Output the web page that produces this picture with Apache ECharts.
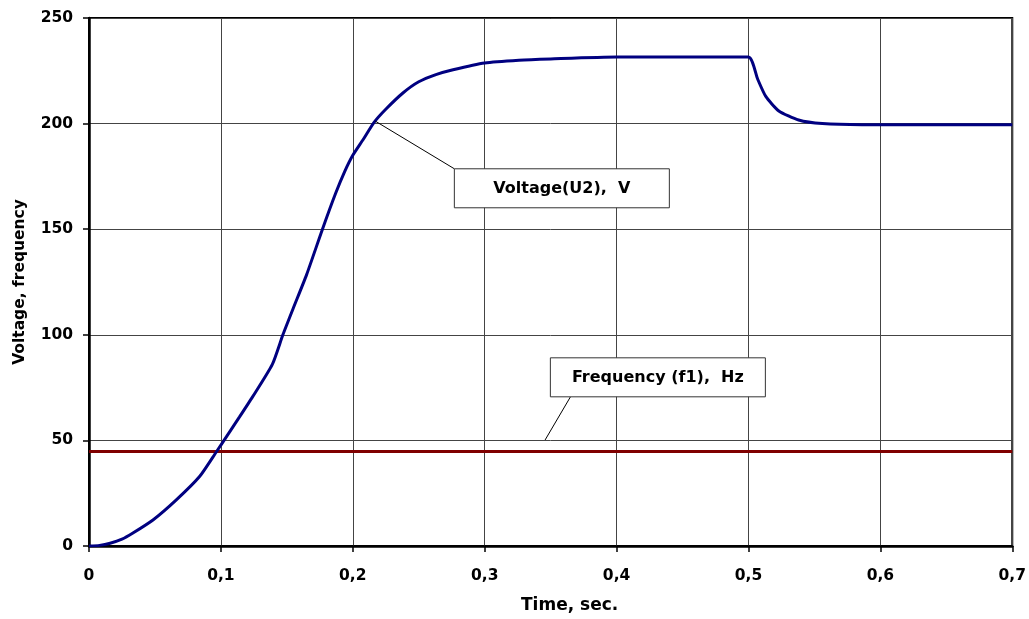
<!DOCTYPE html>
<html>
<head>
<meta charset="utf-8">
<script src="https://cdn.jsdelivr.net/npm/echarts@6/dist/echarts.min.js"></script>
<style>
html,body{margin:0;padding:0;background:#fff;}
#c{width:1029px;height:619px;}
</style>
</head>
<body>
<div id="c"></div>
<script>
// ---- data ----
var timeSec = [0, 0.008, 0.016, 0.025, 0.033, 0.0485, 0.066, 0.084, 0.0965, 0.1, 0.114, 0.124, 0.139, 0.147, 0.1545, 0.165, 0.177, 0.187, 0.194, 0.2, 0.208, 0.216, 0.225, 0.238, 0.25, 0.263, 0.276, 0.3, 0.326, 0.35, 0.4, 0.45, 0.5, 0.507, 0.513, 0.523, 0.538, 0.556, 0.586, 0.7];
var voltageU2 = [0, 0.3, 1.3, 3.2, 6, 12.3, 21.7, 33, 44.5, 47.8, 61, 70.6, 86, 100, 112, 128.5, 150, 167, 177.5, 185, 192.6, 200.5, 206.8, 214.5, 219.8, 223.2, 225.5, 228.7, 230, 230.6, 231.5, 231.5, 231.5, 221, 213, 206, 201.7, 200, 199.5, 199.5];
var freqTime = [0, 0.7];
var freqF1 = [44.7, 44.7];
var xTickLabels = ['0', '0,1', '0,2', '0,3', '0,4', '0,5', '0,6', '0,7'];
var yTickLabels = ['0', '50', '100', '150', '200', '250'];
var voltLabel = 'Voltage(U2),  V';
var freqLabel = 'Frequency (f1),  Hz';

function pairs(xs, ys) { return xs.map(function (x, i) { return [x, ys[i]]; }); }

var FONT = '"DejaVu Sans", sans-serif';
var chart = echarts.init(document.getElementById('c'));
chart.setOption({
  animation: false,
  backgroundColor: '#fff',
  grid: { left: 89, right: 15, top: 18, bottom: 70, show: true, borderColor: '#000', borderWidth: 2, backgroundColor: 'transparent' },
  xAxis: {
    type: 'value', min: 0, max: 0.7, interval: 0.1,
    name: 'Time, sec.', nameLocation: 'middle', nameGap: 51,
    nameTextStyle: { fontFamily: FONT, fontWeight: 'bold', fontSize: 17, color: '#000', padding: [0, 0, 0, 38] },
    axisLine: { show: true, lineStyle: { color: '#000', width: 2.5 } },
    axisTick: { show: true, length: 6, lineStyle: { color: '#000', width: 1.5 } },
    axisLabel: {
      margin: 22, fontFamily: FONT, fontWeight: 'bold', fontSize: 15.5, color: '#000',
      formatter: function (v) { return xTickLabels[Math.round(v * 10)]; }
    },
    splitLine: { show: true, lineStyle: { color: '#444', width: 1 } }
  },
  yAxis: {
    type: 'value', min: 0, max: 250, interval: 50,
    name: 'Voltage, frequency', nameLocation: 'middle', nameGap: 61,
    nameTextStyle: { fontFamily: FONT, fontWeight: 'bold', fontSize: 15.5, color: '#000' },
    axisLine: { show: true, lineStyle: { color: '#000', width: 2.5 } },
    axisTick: { show: true, length: 6, lineStyle: { color: '#000', width: 1.5 } },
    axisLabel: {
      margin: 16, fontFamily: FONT, fontWeight: 'bold', fontSize: 15.5, color: '#000',
      formatter: function (v) { return yTickLabels[Math.round(v / 50)]; }
    },
    splitLine: { show: true, lineStyle: { color: '#444', width: 1 } }
  },
  series: [
    {
      name: 'Frequency (f1), Hz', type: 'line', data: pairs(freqTime, freqF1),
      showSymbol: false, symbol: 'none', lineStyle: { color: '#800000', width: 3 }, z: 3
    },
    {
      name: 'Voltage(U2), V', type: 'line', data: pairs(timeSec, voltageU2),
      showSymbol: false, symbol: 'none', smooth: 0.2,
      lineStyle: { color: '#000080', width: 3 }, z: 4
    }
  ]
});

// annotation anchors in data coordinates
function px(p) { return chart.convertToPixel({ gridIndex: 0 }, p); }
var vAnchor = px([0.217, 201.2]);
var vBox = px([0.277, 178.6]);
var fAnchor = px([0.3458, 50.2]);
var fBox = px([0.3498, 89.1]);
var fLeadTop = px([0.365, 70.6]);
var boxW1 = 215, boxH = 39, boxW2 = 215;
var txtStyle = { fontFamily: FONT, fontWeight: 'bold', fontSize: 16, fill: '#000', align: 'center', verticalAlign: 'middle' };
chart.setOption({
  graphic: [
    { type: 'line', shape: { x1: vAnchor[0], y1: vAnchor[1], x2: vBox[0], y2: vBox[1] }, style: { stroke: '#000', lineWidth: 1 }, z: 10 },
    { type: 'rect', shape: { x: vBox[0], y: vBox[1], width: boxW1, height: boxH }, style: { fill: '#fff', stroke: '#333', lineWidth: 1 }, z: 11 },
    { type: 'text', x: vBox[0] + boxW1 / 2, y: vBox[1] + boxH / 2 + 1, style: Object.assign({ text: voltLabel }, txtStyle), z: 12 },
    { type: 'line', shape: { x1: fAnchor[0], y1: fAnchor[1], x2: fLeadTop[0], y2: fLeadTop[1] }, style: { stroke: '#000', lineWidth: 1 }, z: 10 },
    { type: 'rect', shape: { x: fBox[0], y: fBox[1], width: boxW2, height: boxH }, style: { fill: '#fff', stroke: '#333', lineWidth: 1 }, z: 11 },
    { type: 'text', x: fBox[0] + boxW2 / 2, y: fBox[1] + boxH / 2 + 1, style: Object.assign({ text: freqLabel }, txtStyle), z: 12 }
  ]
});
</script>
</body>
</html>
